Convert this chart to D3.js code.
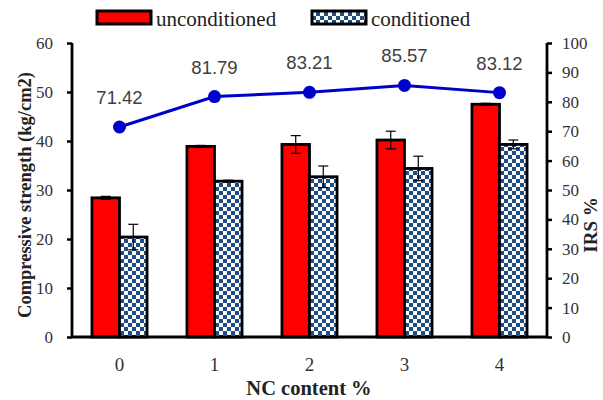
<!DOCTYPE html>
<html>
<head>
<meta charset="utf-8">
<script src="https://cdn.jsdelivr.net/npm/d3@7"></script>
<style>
  body { margin: 0; background: #fff; }
  svg { display: block; }
</style>
</head>
<body>
<div id="chart"></div>
<script>
var categories = ["0", "1", "2", "3", "4"];
var seriesNames = ["unconditioned", "conditioned"];
var unconditioned = [28.4, 38.9, 39.3, 40.2, 47.5];
var unconditionedErr = [0.3, 0.2, 1.8, 1.8, 0.2];
var conditioned = [20.4, 31.8, 32.7, 34.4, 39.3];
var conditionedErr = [2.6, 0.2, 2.2, 2.5, 0.9];
var irs = [71.42, 81.79, 83.21, 85.57, 83.12];
var leftTicks = [0, 10, 20, 30, 40, 50, 60];
var rightTicks = [0, 10, 20, 30, 40, 50, 60, 70, 80, 90, 100];

var svg = d3.select("#chart").append("svg").attr("width", 603).attr("height", 400);

var margin = {top: 43, right: 56, bottom: 63, left: 72};
var width = 603 - margin.left - margin.right,
    height = 400 - margin.top - margin.bottom;
var serif = "Liberation Serif, Times New Roman, serif";

// checker pattern for conditioned bars
var defs = svg.append("defs");
var pat = defs.append("pattern").attr("id", "checker")
  .attr("patternUnits", "userSpaceOnUse").attr("width", 8).attr("height", 8);
pat.append("rect").attr("width", 8).attr("height", 8).attr("fill", "#fff");
pat.append("rect").attr("width", 4).attr("height", 4).attr("fill", "#1f4e85");
pat.append("rect").attr("x", 4).attr("y", 4).attr("width", 4).attr("height", 4).attr("fill", "#1f4e85");

var fills = {unconditioned: "#ff0000", conditioned: "url(#checker)"};

var g = svg.append("g").attr("transform", "translate(" + margin.left + "," + margin.top + ")");

var x0 = d3.scaleBand().domain(categories).range([0, width]).padding(0);
var x1 = d3.scaleBand().domain(seriesNames).range([x0.bandwidth() * 0.21, x0.bandwidth() * 0.79]).padding(0);
var y = d3.scaleLinear().domain([0, 60]).range([height, 0]);
var y2 = d3.scaleLinear().domain([0, 100]).range([height, 0]);

var data = categories.map(function(c, i) {
  return {cat: c, vals: [
    {key: "unconditioned", value: unconditioned[i], err: unconditionedErr[i]},
    {key: "conditioned", value: conditioned[i], err: conditionedErr[i]}
  ]};
});

var groups = g.append("g").selectAll("g").data(data).enter().append("g")
  .attr("transform", function(d) { return "translate(" + x0(d.cat) + ",0)"; });

groups.selectAll("rect").data(function(d) { return d.vals; }).enter().append("rect")
  .attr("x", function(d) { return x1(d.key); })
  .attr("y", function(d) { return y(d.value); })
  .attr("width", x1.bandwidth())
  .attr("height", function(d) { return height - y(d.value); })
  .attr("fill", function(d) { return fills[d.key]; })
  .attr("stroke", "#000").attr("stroke-width", 2.8);

// error bars
var eb = groups.selectAll("g.err").data(function(d) { return d.vals; }).enter().append("g")
  .attr("class", "err").attr("stroke", "#000").attr("stroke-width", 1.2);
eb.append("line")
  .attr("x1", function(d) { return x1(d.key) + x1.bandwidth() / 2; })
  .attr("x2", function(d) { return x1(d.key) + x1.bandwidth() / 2; })
  .attr("y1", function(d) { return y(d.value + d.err); })
  .attr("y2", function(d) { return y(d.value - d.err); });
eb.selectAll("line.cap").data(function(d) { return [d.value + d.err, d.value - d.err].map(function(v) { return {key: d.key, v: v}; }); })
  .enter().append("line").attr("class", "cap")
  .attr("x1", function(d) { return x1(d.key) + x1.bandwidth() / 2 - 5; })
  .attr("x2", function(d) { return x1(d.key) + x1.bandwidth() / 2 + 5; })
  .attr("y1", function(d) { return y(d.v); })
  .attr("y2", function(d) { return y(d.v); });

// axes
var axL = g.append("g").call(d3.axisLeft(y).tickValues(leftTicks).tickSize(5).tickPadding(14));
var axR = g.append("g").attr("transform", "translate(" + width + ",0)")
  .call(d3.axisRight(y2).tickValues(rightTicks).tickSize(5).tickPadding(10));
var axB = g.append("g").attr("transform", "translate(0," + height + ")")
  .call(d3.axisBottom(x0).tickSize(0).tickPadding(21));
[axL, axR, axB].forEach(function(a) {
  a.select(".domain").attr("stroke", "#000").attr("stroke-width", 2.8);
  a.selectAll(".tick line").attr("stroke", "#000").attr("stroke-width", 2.5);
  a.selectAll(".tick text").attr("font-family", serif).attr("font-size", 17).attr("fill", "#333");
});
axB.selectAll(".tick text").attr("font-size", 19);
axL.select(".domain").attr("d", "M0," + height + "V0");
axR.select(".domain").attr("d", "M0," + height + "V0");
axB.select(".domain").attr("d", "M0,0H" + width);

// IRS line
var line = d3.line()
  .x(function(d, i) { return x0(categories[i]) + x0.bandwidth() / 2; })
  .y(function(d) { return y2(d); });
g.append("path").datum(irs).attr("d", line)
  .attr("fill", "none").attr("stroke", "#0000cc").attr("stroke-width", 3);
g.selectAll("circle.pt").data(irs).enter().append("circle").attr("class", "pt")
  .attr("cx", function(d, i) { return x0(categories[i]) + x0.bandwidth() / 2; })
  .attr("cy", function(d) { return y2(d); })
  .attr("r", 6.5).attr("fill", "#0000cc");
g.selectAll("text.lbl").data(irs).enter().append("text").attr("class", "lbl")
  .attr("x", function(d, i) { return x0(categories[i]) + x0.bandwidth() / 2; })
  .attr("y", function(d) { return y2(d) - 23; })
  .attr("text-anchor", "middle")
  .attr("font-family", "Liberation Sans, Arial, sans-serif").attr("font-size", 18.5)
  .attr("fill", "#404040")
  .text(function(d) { return d.toFixed(2); });

// axis titles
svg.append("text").attr("transform", "translate(31,195) rotate(-90)")
  .attr("text-anchor", "middle").attr("font-family", serif).attr("font-weight", "bold")
  .attr("font-size", 18.5).attr("fill", "#222").text("Compressive strength (kg/cm2)");
svg.append("text").attr("transform", "translate(597,225) rotate(-90)")
  .attr("text-anchor", "middle").attr("font-family", serif).attr("font-weight", "bold")
  .attr("font-size", 19).attr("fill", "#222").text("IRS %");
svg.append("text").attr("x", 309).attr("y", 395)
  .attr("text-anchor", "middle").attr("font-family", serif).attr("font-weight", "bold")
  .attr("font-size", 20.5).attr("fill", "#222").text("NC content %");

// legend
var legend = svg.append("g");
var legX = [97, 312];
seriesNames.forEach(function(s, i) {
  legend.append("rect").attr("x", legX[i]).attr("y", 11).attr("width", 54).attr("height", 13)
    .attr("fill", fills[s]).attr("stroke", "#000").attr("stroke-width", 3);
  legend.append("text").attr("x", legX[i] + 59).attr("y", 25.5)
    .attr("font-family", serif).attr("font-size", 21).attr("fill", "#222").text(s);
});
</script>
</body>
</html>
